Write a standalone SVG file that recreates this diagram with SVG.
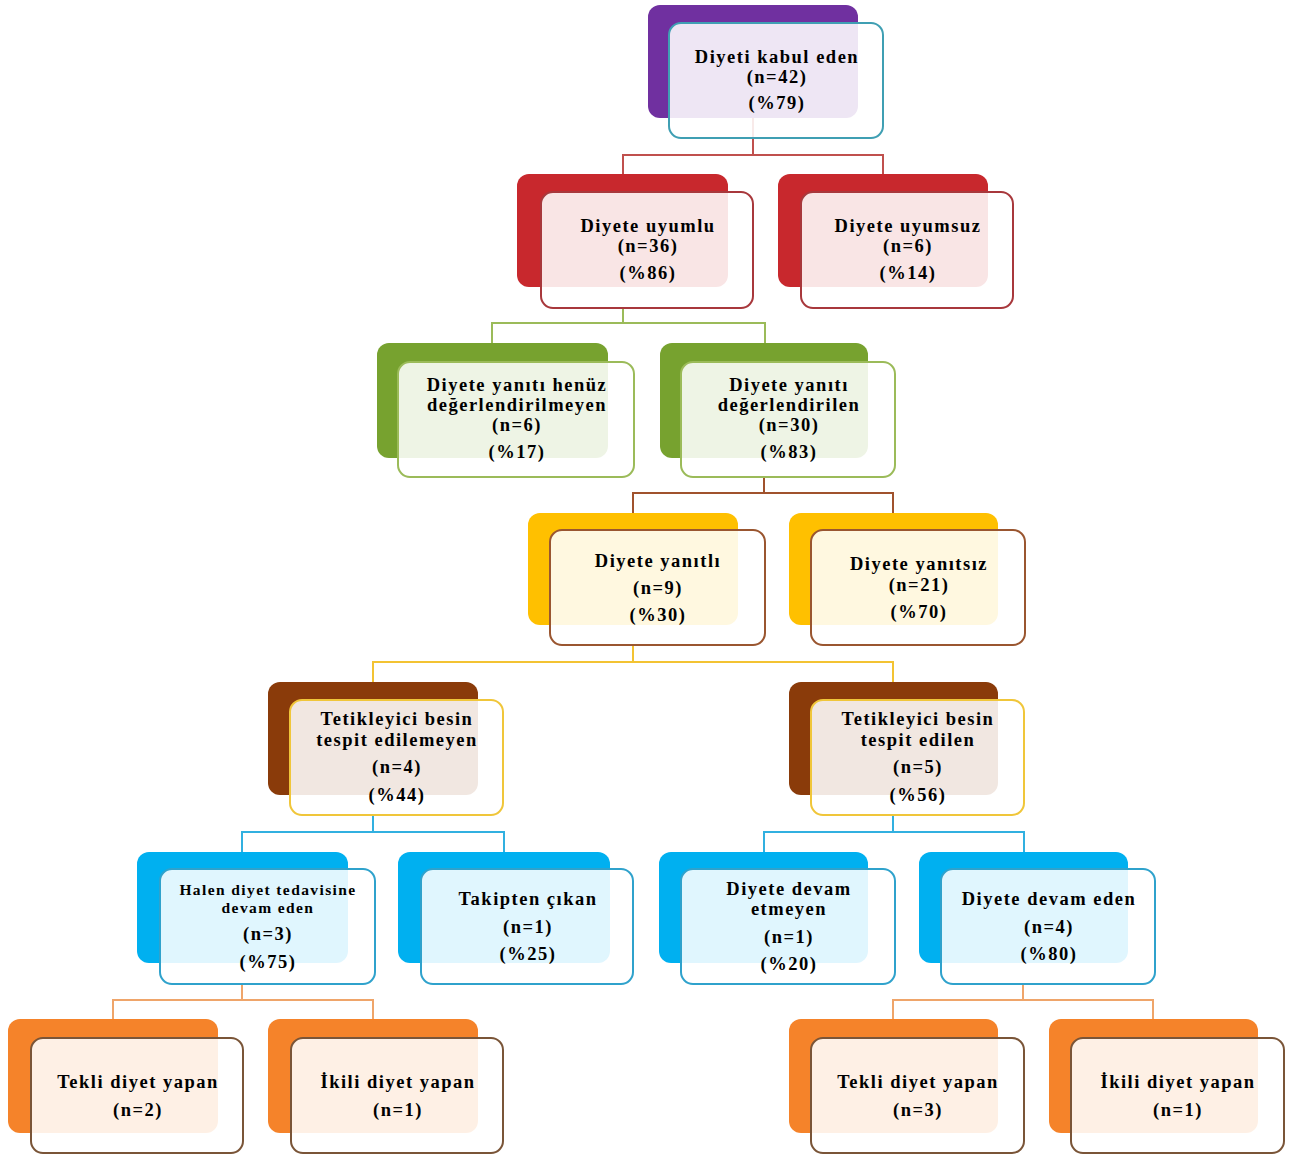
<svg xmlns="http://www.w3.org/2000/svg" width="1295" height="1156" viewBox="0 0 1295 1156">
<style>
.bk{stroke:none}
.fr{fill:#ffffff;fill-opacity:0.88;stroke-width:2}
.t{font-family:"Liberation Serif","Times New Roman",serif;font-weight:bold;font-size:18.5px;letter-spacing:1.5px;fill:#000;text-anchor:middle}
.ts{font-size:15.5px;letter-spacing:1.4px}
.c{fill:none;stroke-width:2}
.pu .bk{fill:#7030a0}.pu .fr{stroke:#3f9fb3}
.rd .bk{fill:#c8282d}.rd .fr{stroke:#a8383c}
.gr .bk{fill:#77a22f}.gr .fr{stroke:#9bbb59}
.ye .bk{fill:#ffc000}.ye .fr{stroke:#9a5630}
.br .bk{fill:#8a3b0a}.br .fr{stroke:#f0c63a}
.bl .bk{fill:#00b0f0}.bl .fr{stroke:#2fa2cc}
.or .bk{fill:#f5832a}.or .fr{stroke:#7a5538}
</style>
<rect width="1295" height="1156" fill="#ffffff"/>
<g id="connectors">
<path class="c" stroke="#c0504d" d="M753 118V155M623 175V155H883V175"/>
<path class="c" stroke="#9bbb59" d="M623 308V323M492 343V323H765V343"/>
<path class="c" stroke="#a0522d" d="M764 477V493M633 513V493H893V513"/>
<path class="c" stroke="#f3c332" d="M633 645V662M373 682V662H893V682"/>
<path class="c" stroke="#31b0e0" d="M373 815V832M242 852V832H504V852"/>
<path class="c" stroke="#31b0e0" d="M893 815V832M764 852V832H1024V852"/>
<path class="c" stroke="#efa56a" d="M242 984V1000M113 1019V1000H373V1019"/>
<path class="c" stroke="#efa56a" d="M1023 984V1000M893 1019V1000H1153V1019"/>
</g>
<g id="n1" class="pu"><rect class="bk" x="648" y="5" width="210" height="113" rx="12"/><rect class="fr" x="669" y="23" width="214" height="115" rx="12"/>
<text class="t" x="777" y="63">Diyeti kabul eden</text><text class="t" x="777" y="83">(n=42)</text><text class="t" x="777" y="109">(%79)</text></g>
<g id="n2" class="rd"><rect class="bk" x="517" y="174" width="211" height="113" rx="12"/><rect class="fr" x="541" y="192" width="212" height="116" rx="12"/>
<text class="t" x="648" y="232">Diyete uyumlu</text><text class="t" x="648" y="252">(n=36)</text><text class="t" x="648" y="279">(%86)</text></g>
<g id="n3" class="rd"><rect class="bk" x="778" y="174" width="210" height="113" rx="12"/><rect class="fr" x="801" y="192" width="212" height="116" rx="12"/>
<text class="t" x="908" y="232">Diyete uyumsuz</text><text class="t" x="908" y="252">(n=6)</text><text class="t" x="908" y="279">(%14)</text></g>
<g id="n4" class="gr"><rect class="bk" x="377" y="343" width="231" height="115" rx="12"/><rect class="fr" x="398" y="362" width="236" height="115" rx="12"/>
<text class="t" x="517" y="391">Diyete yanıtı henüz</text><text class="t" x="517" y="411">değerlendirilmeyen</text><text class="t" x="517" y="431">(n=6)</text><text class="t" x="517" y="458">(%17)</text></g>
<g id="n5" class="gr"><rect class="bk" x="660" y="343" width="208" height="115" rx="12"/><rect class="fr" x="681" y="362" width="214" height="115" rx="12"/>
<text class="t" x="789" y="391">Diyete yanıtı</text><text class="t" x="789" y="411">değerlendirilen</text><text class="t" x="789" y="431">(n=30)</text><text class="t" x="789" y="458">(%83)</text></g>
<g id="n6" class="ye"><rect class="bk" x="528" y="513" width="210" height="112" rx="12"/><rect class="fr" x="550" y="530" width="215" height="115" rx="12"/>
<text class="t" x="658" y="567">Diyete yanıtlı</text><text class="t" x="658" y="594">(n=9)</text><text class="t" x="658" y="621">(%30)</text></g>
<g id="n7" class="ye"><rect class="bk" x="789" y="513" width="209" height="112" rx="12"/><rect class="fr" x="811" y="530" width="214" height="115" rx="12"/>
<text class="t" x="919" y="570">Diyete yanıtsız</text><text class="t" x="919" y="591">(n=21)</text><text class="t" x="919" y="618">(%70)</text></g>
<g id="n8" class="br"><rect class="bk" x="268" y="682" width="210" height="113" rx="12"/><rect class="fr" x="290" y="700" width="213" height="115" rx="12"/>
<text class="t" x="397" y="725">Tetikleyici besin</text><text class="t" x="397" y="746">tespit edilemeyen</text><text class="t" x="397" y="773">(n=4)</text><text class="t" x="397" y="801">(%44)</text></g>
<g id="n9" class="br"><rect class="bk" x="789" y="682" width="209" height="113" rx="12"/><rect class="fr" x="811" y="700" width="213" height="115" rx="12"/>
<text class="t" x="918" y="725">Tetikleyici besin</text><text class="t" x="918" y="746">tespit edilen</text><text class="t" x="918" y="773">(n=5)</text><text class="t" x="918" y="801">(%56)</text></g>
<g id="n10" class="bl"><rect class="bk" x="137" y="852" width="211" height="111" rx="12"/><rect class="fr" x="160" y="869" width="215" height="115" rx="12"/>
<text class="t ts" x="268" y="895">Halen diyet tedavisine</text><text class="t ts" x="268" y="913">devam eden</text><text class="t" x="268" y="940">(n=3)</text><text class="t" x="268" y="968">(%75)</text></g>
<g id="n11" class="bl"><rect class="bk" x="398" y="852" width="212" height="111" rx="12"/><rect class="fr" x="421" y="869" width="212" height="115" rx="12"/>
<text class="t" x="528" y="905">Takipten çıkan</text><text class="t" x="528" y="933">(n=1)</text><text class="t" x="528" y="960">(%25)</text></g>
<g id="n12" class="bl"><rect class="bk" x="659" y="852" width="209" height="111" rx="12"/><rect class="fr" x="681" y="869" width="214" height="115" rx="12"/>
<text class="t" x="789" y="895">Diyete devam</text><text class="t" x="789" y="915">etmeyen</text><text class="t" x="789" y="943">(n=1)</text><text class="t" x="789" y="970">(%20)</text></g>
<g id="n13" class="bl"><rect class="bk" x="919" y="852" width="209" height="111" rx="12"/><rect class="fr" x="941" y="869" width="214" height="115" rx="12"/>
<text class="t" x="1049" y="905">Diyete devam eden</text><text class="t" x="1049" y="933">(n=4)</text><text class="t" x="1049" y="960">(%80)</text></g>
<g id="n14" class="or"><rect class="bk" x="8" y="1019" width="210" height="114" rx="12"/><rect class="fr" x="31" y="1038" width="212" height="115" rx="12"/>
<text class="t" x="138" y="1088">Tekli diyet yapan</text><text class="t" x="138" y="1116">(n=2)</text></g>
<g id="n15" class="or"><rect class="bk" x="268" y="1019" width="210" height="114" rx="12"/><rect class="fr" x="291" y="1038" width="212" height="115" rx="12"/>
<text class="t" x="398" y="1088">İkili diyet yapan</text><text class="t" x="398" y="1116">(n=1)</text></g>
<g id="n16" class="or"><rect class="bk" x="789" y="1019" width="209" height="114" rx="12"/><rect class="fr" x="811" y="1038" width="213" height="115" rx="12"/>
<text class="t" x="918" y="1088">Tekli diyet yapan</text><text class="t" x="918" y="1116">(n=3)</text></g>
<g id="n17" class="or"><rect class="bk" x="1049" y="1019" width="209" height="114" rx="12"/><rect class="fr" x="1071" y="1038" width="213" height="115" rx="12"/>
<text class="t" x="1178" y="1088">İkili diyet yapan</text><text class="t" x="1178" y="1116">(n=1)</text></g>
</svg>
